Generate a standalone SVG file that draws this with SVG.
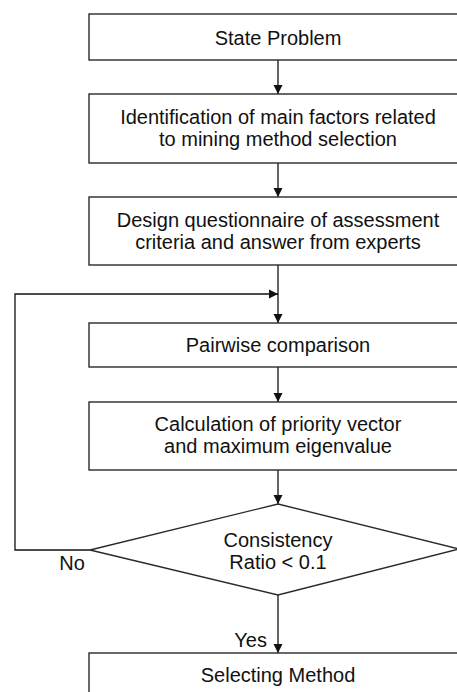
<svg xmlns="http://www.w3.org/2000/svg" width="457" height="692" viewBox="0 0 457 692">
<defs>
<style>
.box{fill:#fff;stroke:#2a2a2a;stroke-width:1.4}
.ln{fill:none;stroke:#111;stroke-width:1.3}
text{font-family:"Liberation Sans",Arial,sans-serif;font-size:20px;fill:#111;text-anchor:middle}
</style>
<marker id="ah" viewBox="0 0 10 10" refX="10" refY="5" markerWidth="9" markerHeight="11" markerUnits="userSpaceOnUse" orient="auto">
<path d="M0,0 L10,5 L0,10 z" fill="#111"/>
</marker>
</defs>
<rect width="457" height="692" fill="#fff"/>
<g id="connectors">
<line class="ln" x1="278" y1="60" x2="278" y2="94" marker-end="url(#ah)"/>
<line class="ln" x1="278" y1="163" x2="278" y2="197" marker-end="url(#ah)"/>
<line class="ln" x1="278" y1="265" x2="278" y2="323" marker-end="url(#ah)"/>
<line class="ln" x1="278" y1="367" x2="278" y2="402" marker-end="url(#ah)"/>
<line class="ln" x1="278" y1="470" x2="278" y2="504" marker-end="url(#ah)"/>
<line class="ln" x1="278" y1="595" x2="278" y2="653" marker-end="url(#ah)"/>
<polyline class="ln" points="90,550 15,550 15,294 278,294" marker-end="url(#ah)"/>
<text x="72" y="570">No</text>
<text x="267" y="647" style="text-anchor:end">Yes</text>
</g>
<g id="n1">
<rect class="box" x="89" y="14" width="400" height="46"/>
<text x="278" y="45">State Problem</text>
</g>
<g id="n2">
<rect class="box" x="89" y="94" width="400" height="69"/>
<text x="278" y="123.5">Identification of main factors related</text>
<text x="278" y="145.5">to mining method selection</text>
</g>
<g id="n3">
<rect class="box" x="89" y="197" width="400" height="68"/>
<text x="278" y="226.5">Design questionnaire of assessment</text>
<text x="278" y="248.5">criteria and answer from experts</text>
</g>
<g id="n4">
<rect class="box" x="89" y="323" width="400" height="44"/>
<text x="278" y="351.5">Pairwise comparison</text>
</g>
<g id="n5">
<rect class="box" x="89" y="402" width="400" height="68"/>
<text x="278" y="430.5">Calculation of priority vector</text>
<text x="278" y="452.5">and maximum eigenvalue</text>
</g>
<g id="n6">
<polygon class="box" points="278,504 459,549 278,595 90,550"/>
<text x="278" y="546.5">Consistency</text>
<text x="278" y="569">Ratio &lt; 0.1</text>
</g>
<g id="n7">
<rect class="box" x="89" y="653" width="400" height="60"/>
<text x="278" y="681.5">Selecting Method</text>
</g>
</svg>
